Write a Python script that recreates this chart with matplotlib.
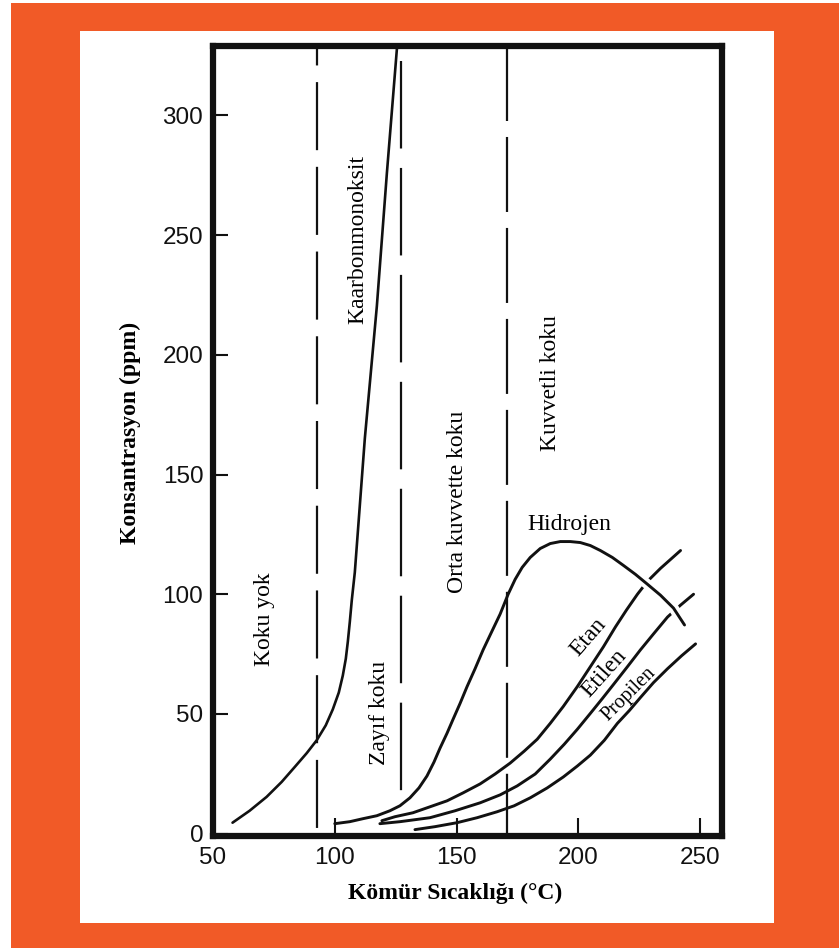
import matplotlib
matplotlib.use("Agg")
import matplotlib.pyplot as plt
from matplotlib.patches import Rectangle
import numpy as np

plt.rcParams["lines.scale_dashes"] = False

# Gas concentration vs coal temperature
co_temp = [58.02, 65.02, 72.02, 78.19, 83.54, 88.48, 92.59, 96.30, 99.18, 101.65, 103.29,
           104.53, 105.35, 106.17, 106.99, 108.23, 112.35, 117.28, 121.40, 124.69, 125.51]
co_ppm = [4.56, 9.54, 15.35, 21.58, 27.80, 33.61, 39.00, 45.23, 51.87, 58.92, 65.98,
          73.03, 80.08, 88.38, 97.51, 109.13, 165.15, 220.33, 275.93, 317.43, 327.80]

h2_temp = [100.00, 106.17, 111.52, 117.28, 122.63, 126.75, 130.86, 134.57, 137.86, 140.74,
           143.21, 146.09, 148.56, 151.44, 154.32, 157.61, 160.91, 164.20, 167.90, 171.19,
           174.07, 176.95, 180.25, 184.36, 188.48, 192.59, 196.71, 200.82, 204.94, 209.05,
           213.99, 218.52, 223.46, 228.40, 233.74, 239.09, 243.62]
h2_ppm = [4.15, 4.98, 6.22, 7.47, 9.54, 11.62, 14.94, 19.09, 24.07, 29.88,
          35.68, 41.91, 47.72, 54.36, 61.41, 68.88, 76.76, 83.82, 91.70, 100.00,
          106.22, 111.20, 115.35, 119.09, 121.16, 121.99, 121.99, 121.58, 120.33, 118.26,
          115.35, 112.03, 108.30, 104.15, 99.59, 94.19, 87.14]

etan_temp = [119.34, 124.69, 132.10, 139.09, 146.09, 152.67, 159.67, 165.84, 172.02, 177.78,
             183.13, 188.48, 193.83, 199.59, 204.94, 210.29, 215.23, 219.75, 224.28, 228.40,
             233.74, 237.86, 241.98]
etan_ppm = [5.39, 7.05, 8.71, 11.20, 13.69, 17.01, 20.75, 24.90, 29.46, 34.44,
            39.42, 46.06, 53.11, 61.41, 69.71, 78.01, 86.31, 93.36, 100.00, 105.39,
            110.79, 114.52, 118.26]

etilen_temp = [118.52, 126.75, 139.09, 149.38, 159.67, 167.90, 174.90, 182.30, 188.48, 194.24,
               199.59, 204.94, 209.88, 214.40, 220.16, 225.51, 230.86, 236.63, 241.98, 247.33]
etilen_ppm = [4.15, 4.98, 6.64, 9.54, 12.86, 16.18, 19.92, 24.90, 31.12, 37.34,
              43.57, 50.21, 56.43, 62.24, 69.71, 76.76, 83.40, 90.46, 95.44, 100.00]

propilen_temp = [132.92, 141.15, 150.21, 158.44, 166.67, 173.66, 180.25, 187.24, 193.83, 199.59,
                 204.94, 210.70, 216.05, 220.99, 225.51, 230.86, 236.63, 242.39, 248.15]
propilen_ppm = [1.66, 2.90, 4.56, 6.64, 9.13, 11.62, 14.94, 19.09, 23.65, 28.22,
                32.78, 39.00, 46.06, 51.45, 56.85, 63.07, 68.88, 74.27, 79.25]

# odour-zone boundaries (temperature) and their vertical extents (ppm)
zone_bounds = [92.8, 127.0, 170.6]
zone_bottoms = [-1, 15.0, -1]
zone_tops = [329, 322.8, 329]

x_ticks = [50, 100, 150, 200, 250]
y_ticks = [0, 50, 100, 150, 200, 250, 300]

orange = "#F15A27"
ink = "#111111"
fig = plt.figure(figsize=(8.39, 9.48), dpi=100, facecolor="white")
fig.patches.append(Rectangle((11 / 839, 0), 1 - 11 / 839, 1 - 3 / 948,
                             transform=fig.transFigure, facecolor=orange,
                             edgecolor="none", zorder=-2))
fig.patches.append(Rectangle((80 / 839, 1 - 923 / 948), (774 - 80) / 839, (923 - 31) / 948,
                             transform=fig.transFigure, facecolor="white",
                             edgecolor="none", zorder=-1))

ax = fig.add_axes([213 / 839, 1 - 836 / 948, (722 - 213) / 839, (836 - 46) / 948])
ax.set_zorder(1)
ax.set_facecolor("white")
ax.set_xlim(50, 259)
ax.set_ylim(-1, 329)

for s in ax.spines.values():
    s.set_linewidth(4.5)
    s.set_color(ink)

ax.set_xticks(x_ticks)
ax.set_yticks(y_ticks)
ax.tick_params(axis="x", direction="in", length=13, width=1.5, pad=8,
               labelsize=17.5, colors=ink)
ax.tick_params(axis="y", direction="in", length=11, width=1.5, pad=7,
               labelsize=17.5, colors=ink)
for lab in ax.get_xticklabels() + ax.get_yticklabels():
    lab.set_fontfamily("Liberation Sans")

dash_styles = [(35, (49, 12)), (0, (63, 14)), (0, (54, 11.5))]
for xb, yb, yt, ds in zip(zone_bounds, zone_bottoms, zone_tops, dash_styles):
    ax.plot([xb, xb], [yt, yb], color=ink, lw=1.6, linestyle=ds,
            solid_capstyle="butt", dash_capstyle="butt", zorder=2)

lw = 2.1
style = dict(color=ink, solid_joinstyle="round", solid_capstyle="round")
ax.plot(co_temp, co_ppm, lw=1.9, zorder=3, **style)
ax.plot(etan_temp, etan_ppm, lw=lw, zorder=3, **style)
ax.plot(etilen_temp, etilen_ppm, lw=lw, zorder=3, **style)
ax.plot(propilen_temp, propilen_ppm, lw=lw, zorder=3, **style)

# white break where the hydrogen curve crosses the others
h2t = np.array(h2_temp)
h2p = np.array(h2_ppm)
tail = h2t >= 218
ax.plot(h2t[tail], h2p[tail], color="white", lw=7.5, zorder=4, solid_capstyle="butt")
ax.plot(h2_temp, h2_ppm, lw=lw, zorder=5, **style)

serif = "Liberation Serif"
fs = 17
ax.text(71.2, 89.6, "Koku yok", rotation=90, ha="center", va="center",
        fontsize=fs, family=serif)
ax.text(118.5, 50.2, "Zayıf koku", rotation=90, ha="center", va="center",
        fontsize=fs, family=serif)
ax.text(150.2, 138.6, "Orta kuvvette koku", rotation=90, ha="center", va="center",
        fontsize=fs, family=serif)
ax.text(188.5, 188.4, "Kuvvetli koku", rotation=90, ha="center", va="center",
        fontsize=fs, family=serif)
ax.text(109.6, 248.1, "Kaarbonmonoksit", rotation=90, ha="center", va="center",
        fontsize=fs, family=serif)
ax.text(196.3, 129.0, "Hidrojen", ha="center", va="center",
        fontsize=fs, family=serif)
ax.text(204.1, 82.2, "Etan", rotation=49, ha="center", va="center",
        fontsize=fs, family=serif, rotation_mode="anchor")
ax.text(210.7, 66.8, "Etilen", rotation=48, ha="center", va="center",
        fontsize=fs, family=serif, rotation_mode="anchor")
ax.text(220.6, 58.1, "Propilen", rotation=45, ha="center", va="center",
        fontsize=14.5, family=serif, rotation_mode="anchor")

fig.text(130 / 839, 1 - 433 / 948, "Konsantrasyon (ppm)", rotation=90,
         ha="center", va="center", fontsize=17, fontweight="bold", family=serif)
fig.text(455 / 839, 1 - 893 / 948, "Kömür Sıcaklığı (°C)",
         ha="center", va="center", fontsize=17, fontweight="bold", family=serif)

fig.savefig("out.png", dpi=100, facecolor=fig.get_facecolor())
